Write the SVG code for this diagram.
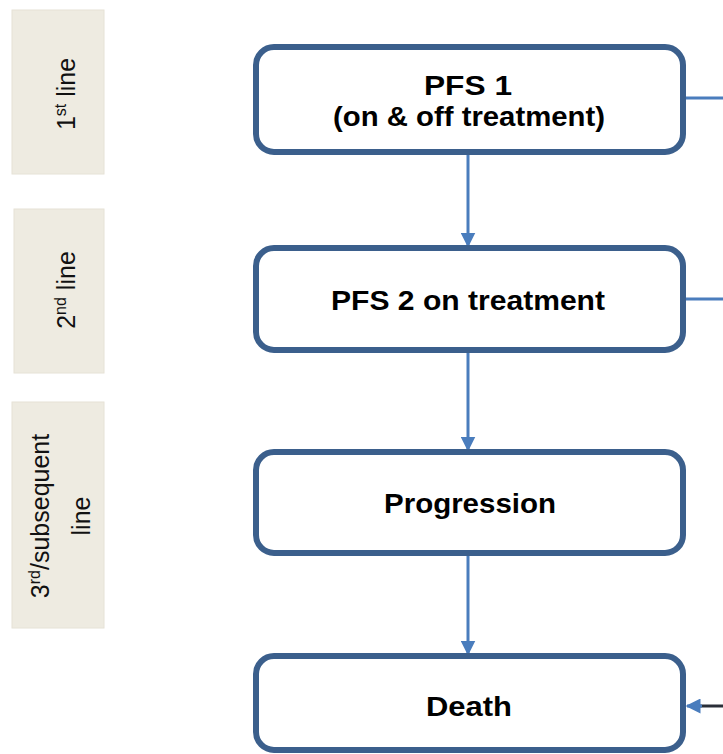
<svg xmlns="http://www.w3.org/2000/svg" width="723" height="754" viewBox="0 0 723 754">
  <defs>
    <style>
      .panel { fill: #eeebe1; stroke: #e6e2d6; stroke-width: 1; }
      .panel-text { font-family: "Liberation Sans", Arial, sans-serif; font-size: 25px; fill: #111; text-anchor: middle; }
      .node { fill: #ffffff; stroke: #3b5f8c; stroke-width: 6; }
      .node-text { font-family: "Liberation Sans", Arial, sans-serif; font-size: 28px; font-weight: bold; fill: #000; text-anchor: middle; }
      .edge { stroke: #4a7dbd; stroke-width: 3; fill: none; }
      .edge-dark { stroke: #2a2f38; stroke-width: 3; fill: none; }
    </style>
    <marker id="arrow" viewBox="0 0 10 10" refX="9" refY="5" markerWidth="5" markerHeight="5" orient="auto" markerUnits="strokeWidth">
      <path d="M0,0 L10,5 L0,10 z" fill="#4a7dbd"/>
    </marker>
  </defs>

  <!-- treatment line labels -->
  <g id="label-1st">
    <rect class="panel" x="12" y="10" width="92" height="164"/>
    <text class="panel-text" transform="translate(75,94) rotate(-90)">1<tspan font-size="16" dy="-9">st</tspan><tspan dy="9"> line</tspan></text>
  </g>
  <g id="label-2nd">
    <rect class="panel" x="14" y="209" width="90" height="164"/>
    <text class="panel-text" transform="translate(75,290) rotate(-90)">2<tspan font-size="16" dy="-9">nd</tspan><tspan dy="9"> line</tspan></text>
  </g>
  <g id="label-3rd">
    <rect class="panel" x="12" y="402" width="92" height="226"/>
    <text class="panel-text" transform="translate(49,516) rotate(-90)">3<tspan font-size="16" dy="-9">rd</tspan><tspan dy="9">/subsequent</tspan></text>
    <text class="panel-text" transform="translate(90,516) rotate(-90)">line</text>
  </g>

  <!-- connectors -->
  <g id="connectors">
    <line class="edge" x1="468" y1="153" x2="468" y2="246" marker-end="url(#arrow)"/>
    <line class="edge" x1="468" y1="353" x2="468" y2="450" marker-end="url(#arrow)"/>
    <line class="edge" x1="468" y1="556" x2="468" y2="654" marker-end="url(#arrow)"/>
    <line class="edge" x1="686" y1="98" x2="723" y2="98"/>
    <line class="edge" x1="686" y1="299" x2="723" y2="299"/>
    <line class="edge-dark" x1="723" y1="706" x2="700" y2="706"/>
    <line class="edge" x1="702" y1="706" x2="687" y2="706" marker-end="url(#arrow)"/>
  </g>

  <!-- states -->
  <g id="pfs1">
    <rect class="node" x="256" y="47" width="427" height="105" rx="18"/>
    <text class="node-text" x="468" y="95" textLength="88" lengthAdjust="spacingAndGlyphs">PFS 1</text>
    <text class="node-text" x="469" y="126" textLength="272" lengthAdjust="spacingAndGlyphs">(on &amp; off treatment)</text>
  </g>
  <g id="pfs2">
    <rect class="node" x="256" y="248" width="427" height="102" rx="18"/>
    <text class="node-text" x="468" y="310" textLength="274" lengthAdjust="spacingAndGlyphs">PFS 2 on treatment</text>
  </g>
  <g id="progression">
    <rect class="node" x="256" y="452" width="427" height="101" rx="18"/>
    <text class="node-text" x="470" y="513" textLength="172" lengthAdjust="spacingAndGlyphs">Progression</text>
  </g>
  <g id="death">
    <rect class="node" x="256" y="656" width="427" height="94" rx="18"/>
    <text class="node-text" x="469" y="716" textLength="86" lengthAdjust="spacingAndGlyphs">Death</text>
  </g>
</svg>
